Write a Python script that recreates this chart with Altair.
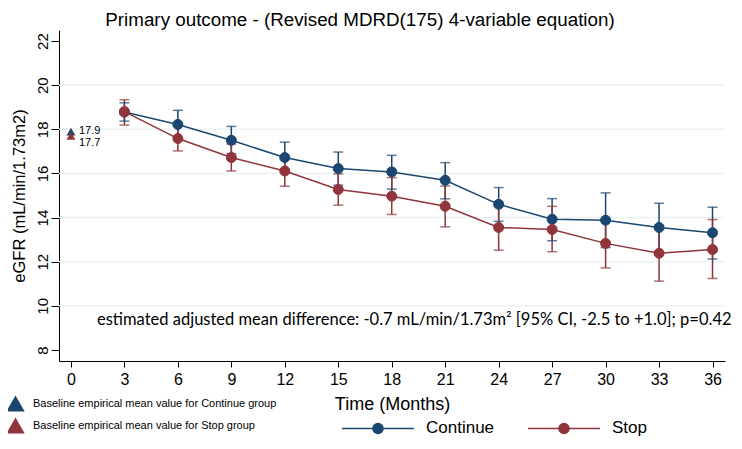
import altair as alt
import pandas as pd

# ---------------- data ----------------
months = [3, 6, 9, 12, 15, 18, 21, 24, 27, 30, 33, 36]
cont_mean = [18.78, 18.22, 17.50, 16.72, 16.22, 16.07, 15.69, 14.60, 13.92, 13.88, 13.55, 13.31]
cont_lo = [18.37, 17.58, 16.90, 16.02, 15.47, 15.29, 14.85, 13.83, 12.95, 12.64, 12.45, 12.12]
cont_hi = [19.20, 18.86, 18.13, 17.42, 16.97, 16.82, 16.49, 15.36, 14.86, 15.12, 14.65, 14.47]
stop_mean = [18.80, 17.58, 16.72, 16.11, 15.27, 14.97, 14.51, 13.55, 13.46, 12.83, 12.38, 12.55]
stop_lo = [18.19, 17.02, 16.11, 15.42, 14.56, 14.14, 13.58, 12.52, 12.45, 11.72, 11.12, 11.24]
stop_hi = [19.34, 18.14, 17.33, 16.80, 15.98, 15.81, 15.43, 14.58, 14.51, 13.94, 13.64, 13.91]
series_names = ["Continue", "Stop"]
series_colors = ["#1a476f", "#90353b"]

baseline_month = [0, 0]
baseline_values = [17.9, 17.7]
baseline_labels = ["17.9", "17.7"]
baseline_names = ["Baseline empirical mean value for Continue group",
                  "Baseline empirical mean value for Stop group"]

x_ticks = list(range(0, 37, 3))
y_ticks = [8, 10, 12, 14, 16, 18, 20, 22]
grid_vals = [10, 12, 14, 16, 18, 20]

title_text = "Primary outcome - (Revised MDRD(175) 4-variable equation)"
x_title = "Time (Months)"
y_title = "eGFR (mL/min/1.73m2)"
annotation = "estimated adjusted mean difference: -0.7 mL/min/1.73m\u00b2 [95% CI, -2.5 to +1.0]; p=0.42"

# ---------------- frames ----------------
rows = []
for name, m, lo, hi in [("Continue", cont_mean, cont_lo, cont_hi), ("Stop", stop_mean, stop_lo, stop_hi)]:
    for t, a, b, c in zip(months, m, lo, hi):
        rows.append({"month": t, "mean": a, "lo": b, "hi": c, "group": name})
df = pd.DataFrame(rows)

base_df = pd.DataFrame({"month": baseline_month, "value": baseline_values,
                        "label": baseline_labels, "bgroup": baseline_names})
grid_df = pd.DataFrame({"g": grid_vals})
ann_df = pd.DataFrame({"t": [annotation]})
title_df = pd.DataFrame({"t": [title_text]})

FONT = "Liberation Sans"
xscale = alt.Scale(domain=[-0.67, 36.7], nice=False, zero=False)
yscale = alt.Scale(domain=[7.5, 22.5], nice=False, zero=False)

x_axis = alt.Axis(values=x_ticks, title=x_title, grid=False, tickSize=6,
                  labelPadding=4, labelFontSize=16, titleFontSize=18,
                  titlePadding=8, labelFlush=False)
y_axis = alt.Axis(values=y_ticks, title=y_title, grid=False, tickSize=8,
                  labelAngle=-90, labelAlign="center", labelBaseline="alphabetic",
                  labelPadding=4, labelFontSize=15, titleFontSize=16.5,
                  titlePadding=8, labelFlush=False)
X = alt.X("month:Q", scale=xscale, axis=x_axis)
Y = alt.Y("mean:Q", scale=yscale, axis=y_axis)

grp_scale = alt.Scale(domain=series_names, range=series_colors)
line_path = "M-1,0L1,0M0.14,0A0.14,0.14,0,1,1,-0.14,0A0.14,0.14,0,1,1,0.14,0Z"
series_legend = alt.Legend(title=None, orient="none", legendX=282, legendY=361,
                           direction="horizontal", columns=2, symbolType=line_path,
                           symbolSize=5184, symbolStrokeWidth=1.5, labelFontSize=17,
                           labelFont=FONT, labelOffset=11, columnPadding=30, padding=0,
                           labelColor="#000000")

grid = alt.Chart(grid_df).mark_rule(color="#eaf2f3", strokeWidth=1.5).encode(
    y=alt.Y("g:Q", scale=yscale, axis=y_axis))

err = alt.Chart(df).mark_rule(strokeWidth=1.5).encode(
    x=X, y=alt.Y("lo:Q", scale=yscale, axis=y_axis), y2="hi:Q",
    stroke=alt.Stroke("group:N", scale=grp_scale, legend=series_legend))
cap_lo = alt.Chart(df).mark_tick(orient="horizontal", size=10, thickness=1.5).encode(
    x=X, y=alt.Y("lo:Q", scale=yscale, axis=y_axis),
    color=alt.Color("group:N", scale=grp_scale, legend=None))
cap_hi = alt.Chart(df).mark_tick(orient="horizontal", size=10, thickness=1.5).encode(
    x=X, y=alt.Y("hi:Q", scale=yscale, axis=y_axis),
    color=alt.Color("group:N", scale=grp_scale, legend=None))

line = alt.Chart(df).mark_line(strokeWidth=1.5).encode(
    x=X, y=Y, detail="group:N",
    stroke=alt.Stroke("group:N", scale=grp_scale, legend=series_legend))
pts = alt.Chart(df).mark_point(filled=True, size=100, opacity=1, strokeWidth=1).encode(
    x=X, y=Y,
    fill=alt.Fill("group:N", scale=grp_scale, legend=series_legend),
    stroke=alt.Stroke("group:N", scale=grp_scale, legend=series_legend))

tri = alt.Chart(base_df).mark_point(shape="triangle-up", filled=True, size=80, opacity=1).encode(
    x=alt.X("month:Q", scale=xscale, axis=x_axis), y=alt.Y("value:Q", scale=yscale, axis=y_axis),
    color=alt.Color("bgroup:N", scale=alt.Scale(domain=baseline_names, range=series_colors),
                    legend=alt.Legend(title=None, orient="none", legendX=-53, legendY=364,
                                      direction="vertical", symbolType="triangle-up",
                                      symbolSize=340, labelFontSize=11, labelFont=FONT,
                                      labelOffset=8, rowPadding=4, padding=0,
                                      labelColor="#000000", symbolStrokeWidth=0,
                                      labelLimit=400)))
lab_c = alt.Chart(base_df.iloc[[0]]).mark_text(align="left", baseline="middle", dx=8, dy=-1,
                                              fontSize=11, font=FONT, color="#000000").encode(
    x=alt.X("month:Q", scale=xscale, axis=x_axis), y=alt.Y("value:Q", scale=yscale, axis=y_axis),
    text="label:N")
lab_s = alt.Chart(base_df.iloc[[1]]).mark_text(align="left", baseline="middle", dx=8, dy=7,
                                              fontSize=11, font=FONT, color="#000000").encode(
    x=alt.X("month:Q", scale=xscale, axis=x_axis), y=alt.Y("value:Q", scale=yscale, axis=y_axis),
    text="label:N")

ann = alt.Chart(ann_df).mark_text(align="left", baseline="middle", fontSize=16.5, font="Lato",
                                  color="#000000").encode(
    x=alt.value(38), y=alt.value(290), text="t:N")
ttl = alt.Chart(title_df).mark_text(align="center", baseline="alphabetic", fontSize=18.8, font=FONT,
                                   color="#000000").encode(
    x=alt.value(301), y=alt.value(-4), text="t:N")

chart = alt.layer(grid, err, cap_lo, cap_hi, line, pts, tri, lab_c, lab_s, ann, ttl).resolve_scale(
    color="independent"
).properties(
    width=666, height=331,
    autosize=alt.AutoSizeParams(type="none"),
    padding={"left": 51, "top": 22, "right": 9, "bottom": 80},
).configure_view(stroke=None).configure_axis(
    domainColor="#000000", tickColor="#000000", labelColor="#000000", titleColor="#000000",
    labelFont=FONT, titleFont=FONT, titleFontWeight="normal", domainWidth=1, tickWidth=1
)

chart.save("out.html", embed_options={"renderer": "svg", "actions": False})
